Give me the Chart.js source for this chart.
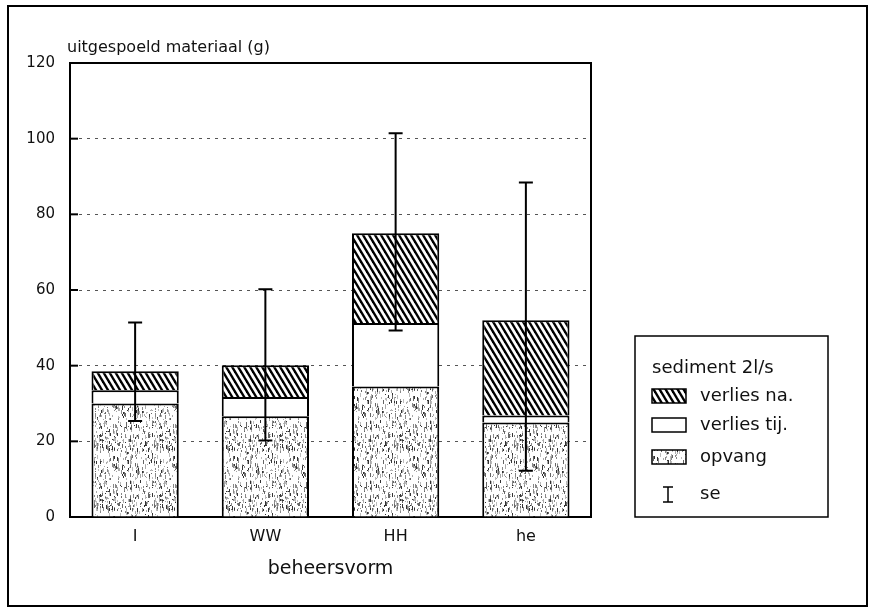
<!DOCTYPE html>
<html>
<head>
<meta charset="utf-8">
<script src="https://cdn.jsdelivr.net/npm/chart.js@4/dist/chart.umd.min.js"></script>
<style>
  html, body { margin: 0; padding: 0; background: #fff; }
  #wrap { width: 869px; height: 608px; }
</style>
</head>
<body>
<div id="wrap"><canvas id="chart" width="869" height="608"></canvas></div>
<script>
// uitgespoeld materiaal per beheersvorm (g)
const categories = ['I', 'WW', 'HH', 'he'];
const opvang = [30, 26.6, 34.5, 25];
const verliesTij = [3.5, 5.1, 16.8, 1.8];
const verliesNa = [5, 8.4, 23.7, 25.2];
// se range around the total
const seLow = [25.4, 20.2, 49.3, 12.2];
const seHigh = [51.4, 60.2, 101.4, 88.4];
const yTicks = [0, 20, 40, 60, 80, 100, 120];

const FONT = '"DejaVu Sans", "Liberation Sans", Arial, sans-serif';

// fill textures
function hatchPattern() {
  const c = document.createElement('canvas');
  c.width = 6; c.height = 10;
  const g = c.getContext('2d');
  g.fillStyle = '#fff';
  g.fillRect(0, 0, 6, 10);
  g.strokeStyle = '#000';
  g.lineWidth = 2.4;
  for (const k of [-6, 0, 6]) {
    g.beginPath();
    g.moveTo(k - 0.6, -1);
    g.lineTo(k + 6.6, 11);
    g.stroke();
  }
  return g.createPattern(c, 'repeat');
}

function stipplePattern() {
  const c = document.createElement('canvas');
  c.width = 60; c.height = 60;
  const g = c.getContext('2d');
  g.fillStyle = '#fff';
  g.fillRect(0, 0, 60, 60);
  let s = 12345;
  const rnd = () => { s = (s * 1103515245 + 12345) % 2147483648; return s / 2147483648; };
  const shades = ['#333', '#666', '#888', '#aaa', '#bbb'];
  for (let i = 0; i < 420; i++) {
    const x = Math.floor(rnd() * 60);
    const y = Math.floor(rnd() * 60);
    g.fillStyle = shades[Math.floor(rnd() * shades.length)];
    g.fillRect(x, y, 1, 1 + Math.floor(rnd() * 4));
  }
  return g.createPattern(c, 'repeat');
}

const hatch = hatchPattern();
const stipple = stipplePattern();

const framePlugin = {
  id: 'frame',
  afterDraw(chart) {
    const ctx = chart.ctx;
    const a = chart.chartArea;
    const y = chart.scales.y;
    ctx.save();
    ctx.strokeStyle = '#000';
    // outer frame
    ctx.lineWidth = 2;
    ctx.strokeRect(8, 6, 859, 600);
    // plot box top and right
    ctx.beginPath();
    ctx.moveTo(a.left, a.top);
    ctx.lineTo(a.right, a.top);
    ctx.lineTo(a.right, a.bottom);
    ctx.stroke();
    // inward tick marks
    yTicks.forEach(v => {
      const py = y.getPixelForValue(v);
      ctx.beginPath();
      ctx.moveTo(a.left, py);
      ctx.lineTo(a.left + 8, py);
      ctx.stroke();
    });
    // axis title on top
    ctx.fillStyle = '#111';
    ctx.font = '16px ' + FONT;
    ctx.textBaseline = 'middle';
    ctx.textAlign = 'left';
    ctx.fillText('uitgespoeld materiaal (g)', 67, 48);
    ctx.restore();
  }
};

const errorPlugin = {
  id: 'errorBars',
  afterDatasetsDraw(chart) {
    const ctx = chart.ctx;
    const y = chart.scales.y;
    const bars = chart.getDatasetMeta(2).data;
    ctx.save();
    ctx.strokeStyle = '#000';
    ctx.lineWidth = 2;
    bars.forEach((bar, i) => {
      const x = bar.x;
      const lo = y.getPixelForValue(seLow[i]);
      const hi = y.getPixelForValue(seHigh[i]);
      ctx.beginPath();
      ctx.moveTo(x, lo); ctx.lineTo(x, hi);
      ctx.moveTo(x - 7, lo); ctx.lineTo(x + 7, lo);
      ctx.moveTo(x - 7, hi); ctx.lineTo(x + 7, hi);
      ctx.stroke();
    });
    ctx.restore();
  }
};

const legendPlugin = {
  id: 'boxLegend',
  afterDraw(chart) {
    const ctx = chart.ctx;
    ctx.save();
    ctx.strokeStyle = '#000';
    ctx.lineWidth = 1.5;
    ctx.strokeRect(635, 336, 193, 181);
    ctx.fillStyle = '#111';
    ctx.font = '18px ' + FONT;
    ctx.textBaseline = 'middle';
    ctx.textAlign = 'left';
    ctx.fillText('sediment 2l/s', 652, 368);
    const rows = [
      { label: 'verlies na.', fill: hatch, y: 396 },
      { label: 'verlies tij.', fill: '#fff', y: 425 },
      { label: 'opvang', fill: stipple, y: 457 }
    ];
    rows.forEach(r => {
      ctx.fillStyle = r.fill;
      ctx.fillRect(652, r.y - 7, 34, 14);
      ctx.lineWidth = 1.5;
      ctx.strokeRect(652, r.y - 7, 34, 14);
      ctx.fillStyle = '#111';
      ctx.fillText(r.label, 700, r.y);
    });
    // se symbol
    ctx.lineWidth = 1.5;
    ctx.beginPath();
    ctx.moveTo(668, 487); ctx.lineTo(668, 502);
    ctx.moveTo(663, 487); ctx.lineTo(673, 487);
    ctx.moveTo(663, 502); ctx.lineTo(673, 502);
    ctx.stroke();
    ctx.fillText('se', 700, 494);
    ctx.restore();
  }
};

new Chart(document.getElementById('chart'), {
  type: 'bar',
  data: {
    labels: categories,
    datasets: [
      { label: 'opvang', data: opvang, backgroundColor: stipple },
      { label: 'verlies tij.', data: verliesTij, backgroundColor: '#fff' },
      { label: 'verlies na.', data: verliesNa, backgroundColor: hatch }
    ].map(d => Object.assign(d, {
      borderColor: '#000',
      borderWidth: 2,
      borderSkipped: 'start',
      categoryPercentage: 1,
      barPercentage: 0.67
    }))
  },
  options: {
    responsive: false,
    animation: false,
    devicePixelRatio: 1,
    layout: { padding: { left: 0, top: 63, right: 278, bottom: 0 } },
    plugins: { legend: { display: false }, tooltip: { enabled: false } },
    scales: {
      x: {
        stacked: true,
        grid: { display: false, drawTicks: false },
        border: { color: '#000', width: 2 },
        ticks: { color: '#111', font: { family: FONT, size: 16 }, padding: 10 },
        title: {
          display: true, text: 'beheersvorm', color: '#111',
          font: { family: FONT, size: 19 }, padding: { top: 0, bottom: 28 }
        },
        afterFit(scale) { scale.height = 91; }
      },
      y: {
        stacked: true,
        min: 0, max: 120,
        afterBuildTicks(scale) { scale.ticks = yTicks.map(v => ({ value: v })); },
        grid: {
          drawTicks: false,
          color: c => (c.tick && (c.tick.value === 0 || c.tick.value === 120)) ? 'rgba(0,0,0,0)' : '#555',
          lineWidth: 1
        },
        border: { color: '#000', width: 2, dash: [3, 5] },
        ticks: { color: '#111', font: { family: FONT, size: 15 }, padding: 15 },
        afterFit(scale) { scale.width = 70; }
      }
    }
  },
  plugins: [framePlugin, errorPlugin, legendPlugin]
});
</script>
</body>
</html>
